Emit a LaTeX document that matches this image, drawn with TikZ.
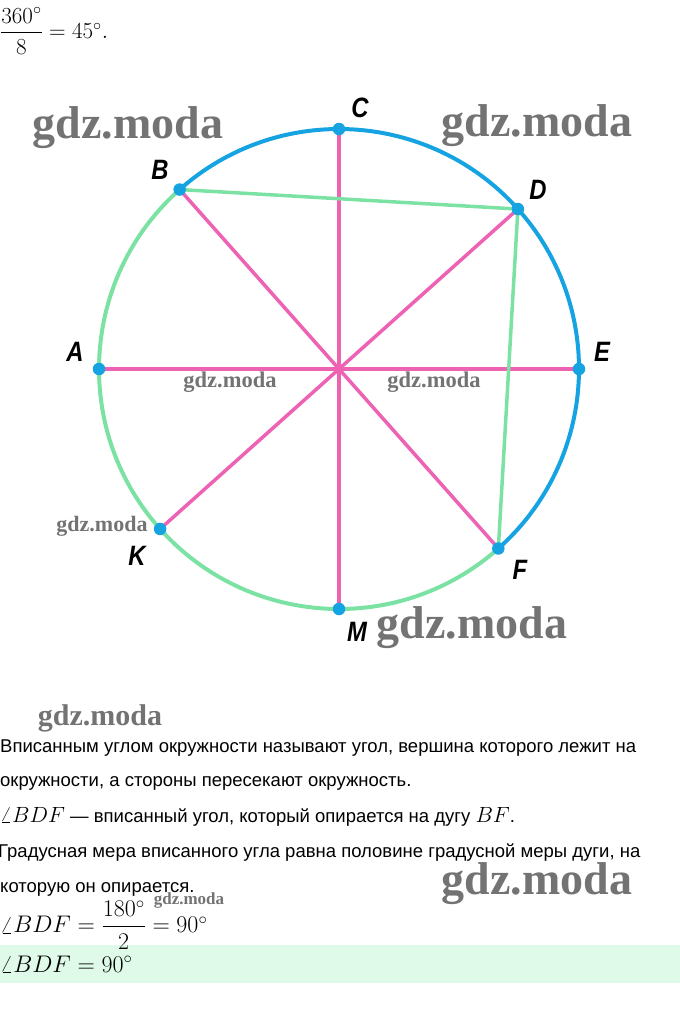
\RequirePackage{fix-cm}
\documentclass[tikz,border=0pt]{standalone}
\usepackage{fontspec}
\usepackage{amsmath}
\newfontfamily\rufont{Liberation Sans}
\newfontfamily\wmfont{Liberation Serif}
\usetikzlibrary{positioning}
\definecolor{arcblue}{RGB}{22,163,226}
\definecolor{linepink}{RGB}{238,98,180}
\definecolor{chordgreen}{RGB}{124,226,164}
\definecolor{bandgreen}{RGB}{223,250,233}
\definecolor{wmgray}{RGB}{115,115,115}
\tikzset{
  diam/.style={draw=linepink, line width=3.5pt},
  chord/.style={draw=chordgreen, line width=3.5pt},
  bluearc/.style={draw=arcblue, line width=4pt},
  greenarc/.style={draw=chordgreen, line width=4pt},
  ptdot/.style={circle, fill=arcblue, inner sep=0pt, minimum size=12.5pt},
  ptlabel/.style={font=\rufont\bfseries\itshape\fontsize{28}{28}\selectfont, inner sep=0pt, xscale=0.85},
  wm/.style={font=\wmfont\bfseries\fontsize{#1}{#1}\selectfont, text=wmgray, inner sep=0pt},
  wm/.default=46,
  txtline/.style={font=\rufont\fontsize{18.5}{18.5}\selectfont, anchor=base west, inner sep=0pt},
  mathline/.style={font=\fontsize{24}{28}\selectfont, anchor=west, inner sep=0pt}
}
\newcommand{\bigmath}[1]{{\fontsize{22}{22}\selectfont$#1$}}
\begin{document}
\begin{tikzpicture}[x=1pt, y=1pt]
\useasboundingbox (0,0) rectangle (680,-1018);
\fill[bandgreen] (0,-945) rectangle (680,-983);
\coordinate (O) at (339,-369);
\foreach \n/\a in {A/180, B/131.6, C/90, D/41.8, E/0, F/-48.4, K/221.8, M/270}
  \coordinate (\n) at ([shift={(\a:240)}]O);
% radii from the centre
\foreach \n in {A, B, C, D, E, F, K, M}
  \draw[diam] (O) -- (\n);
% inscribed angle
\draw[chord] (B) -- (D) -- (F);
% arcs
\draw[bluearc] (F) arc[start angle=-48.4, end angle=131.6, radius=240];
\draw[greenarc] (B) arc[start angle=131.6, end angle=311.6, radius=240];
\foreach \n in {A, B, C, D, E, F, K, M}
  \node[ptdot] at (\n) {};
% point labels
\node[ptlabel] (lA) at (75,-352) {A};
\node[ptlabel] (lB) at (160,-170) {B};
\node[ptlabel] (lC) at (360,-108) {C};
\node[ptlabel] (lD) at (538,-190) {D};
\node[ptlabel] (lE) at (602,-352) {E};
\node[ptlabel] (lF) at (520,-570) {F};
\node[ptlabel] (lK) at (137,-556) {K};
\node[ptlabel] (lM) at (357,-632) {M};
% watermarks
\node[wm] (wm1) at (128,-128) {gdz.moda};
\node[wm] (wm2) at (537,-126) {gdz.moda};
\node[wm] (wm3) at (472,-628) {gdz.moda};
\node[wm] (wm4) at (537,-884) {gdz.moda};
\node[wm=22.5] (wm5) at (230,-382) {gdz.moda};
\node[wm=22.5] (wm6) at (434,-382) {gdz.moda};
\node[wm=22] (wm7) at (102,-526) {gdz.moda};
\node[wm=30] (wm8) at (100,-718) {gdz.moda};
\node[wm=17] (wm9) at (189,-900) {gdz.moda};
% text
\node[mathline, font=\fontsize{23}{27}\selectfont] (frac) at (0,-31) {$\dfrac{360^\circ}{8}=45^\circ.$};
\node[txtline] (t1) at (0,-752) {Вписанным углом окружности называют угол, вершина которого лежит на};
\node[txtline] (t2) at (0,-786) {окружности, а стороны пересекают окружность.};
\node[txtline] (t3) at (0,-822) {\bigmath{\angle BDF} — вписанный угол, который опирается на дугу \bigmath{BF}.};
\node[txtline] (t4) at (-2,-857) {Градусная мера вписанного угла равна половине градусной меры дуги, на};
\node[txtline] (t5) at (0,-892) {которую он опирается.};
\node[mathline] (eq1) at (0,-925) {$\angle BDF=\dfrac{180^\circ}{2}=90^\circ$};
\node[mathline, anchor=base west] (eq2) at (0,-972) {$\angle BDF=90^\circ$};
\end{tikzpicture}
\end{document}
